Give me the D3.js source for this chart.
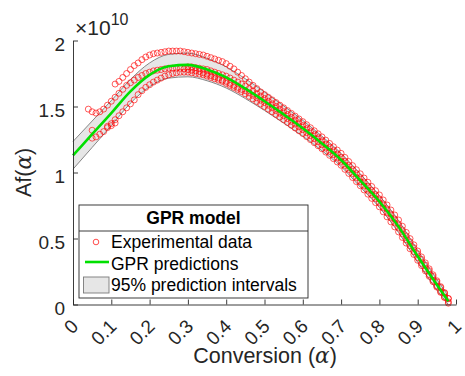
<!DOCTYPE html>
<html><head><meta charset="utf-8">
<script src="https://cdn.jsdelivr.net/npm/d3@7"></script>
<style>body{margin:0;background:#fff}svg{display:block}</style>
</head><body><svg id="c" width="465" height="376"></svg>
<script>
// ---- data (values in units of 1e10) ----
const alphaGrid = [0.04,0.05,0.06,0.07,0.08,0.09,0.10,0.11,0.12,0.13,0.14,0.15,0.16,0.17,0.18,0.19,0.20,0.21,0.22,0.23,0.24,0.25,0.26,0.27,0.28,0.29,0.30,0.31,0.32,0.33,0.34,0.35,0.36,0.37,0.38,0.39,0.40,0.41,0.42,0.43,0.44,0.45,0.46,0.47,0.48,0.49,0.50,0.51,0.52,0.53,0.54,0.55,0.56,0.57,0.58,0.59,0.60,0.61,0.62,0.63,0.64,0.65,0.66,0.67,0.68,0.69,0.70,0.71,0.72,0.73,0.74,0.75,0.76,0.77,0.78,0.79,0.80,0.81,0.82,0.83,0.84,0.85,0.86,0.87,0.88,0.89,0.90,0.91,0.92,0.93,0.94,0.95,0.96,0.97,0.98];
const expA = [1.48,1.46,1.45,1.46,1.48,1.51,1.54,1.57,1.60,1.63,1.66,1.68,1.70,1.72,1.735,1.75,1.76,1.77,1.775,1.78,1.785,1.79,1.79,1.79,1.79,1.785,1.78,1.775,1.77,1.765,1.755,1.745,1.735,1.725,1.715,1.70,1.69,1.675,1.66,1.645,1.63,1.62,1.603,1.585,1.566,1.548,1.53,1.51,1.49,1.47,1.45,1.43,1.409,1.388,1.367,1.346,1.325,1.302,1.279,1.256,1.233,1.21,1.185,1.16,1.135,1.11,1.085,1.054,1.023,0.992,0.961,0.93,0.898,0.866,0.834,0.802,0.77,0.732,0.694,0.656,0.618,0.58,0.535,0.49,0.445,0.40,0.355,0.312,0.269,0.226,0.183,0.14,0.098,0.057,0.02];
const expB = [null,null,null,null,null,null,null,1.67,1.69,1.72,1.75,1.78,1.81,1.83,1.855,1.875,1.89,1.90,1.905,1.91,1.915,1.92,1.92,1.92,1.92,1.915,1.91,1.905,1.90,1.895,1.89,1.88,1.87,1.86,1.85,1.84,1.825,1.805,1.785,1.76,1.735,1.71,1.685,1.66,1.635,1.61,1.59,1.57,1.55,1.53,1.51,1.49,1.469,1.448,1.427,1.406,1.385,1.362,1.339,1.316,1.293,1.27,1.245,1.22,1.195,1.17,1.145,1.114,1.083,1.052,1.021,0.99,0.958,0.926,0.894,0.862,0.83,0.792,0.754,0.716,0.678,0.64,0.593,0.546,0.499,0.452,0.405,0.36,0.315,0.27,0.225,0.18,0.135,0.09,0.045];
const expC = [null,1.26,1.27,1.29,1.31,1.34,1.37,1.40,1.43,1.46,1.49,1.52,1.55,1.59,1.62,1.645,1.665,1.685,1.70,1.715,1.73,1.74,1.75,1.755,1.76,1.76,1.76,1.755,1.75,1.745,1.74,1.73,1.72,1.71,1.70,1.69,1.675,1.66,1.645,1.63,1.613,1.595,1.576,1.557,1.538,1.519,1.50,1.48,1.46,1.44,1.42,1.40,1.379,1.358,1.337,1.316,1.295,1.272,1.249,1.226,1.203,1.18,1.155,1.13,1.105,1.08,1.055,1.024,0.993,0.962,0.931,0.90,0.868,0.836,0.804,0.772,0.74,0.702,0.664,0.626,0.588,0.55,0.508,0.465,0.422,0.379,0.335,0.295,0.255,0.214,0.173,0.132,0.092,0.053,0.01];
const expD = [null,1.32,null,null,null,1.35,1.355,1.375,null,null,null,null,null,null,null,null,null,null,null,null,null,null,null,null,null,null,1.80,1.80,1.795,1.79,1.785,1.78,1.77,1.76,1.75,1.74,1.73,1.716,1.70,1.685,1.67,1.655,1.636,1.617,1.598,1.579,1.56,1.54,1.52,1.50,1.48,1.46,1.439,1.418,1.397,1.376,1.355,1.332,1.309,1.286,1.263,1.24,1.215,1.19,1.165,1.14,1.115,1.084,1.053,1.022,0.991,0.96,0.928,0.896,0.864,0.832,0.80,0.762,0.724,0.686,0.648,0.61,0.565,0.52,0.475,0.43,0.385,0.342,0.299,0.256,0.213,0.17,0.128,0.086,0.045];

const alphaFit = [0,0.05,0.10,0.15,0.20,0.25,0.30,0.35,0.40,0.45,0.50,0.55,0.60,0.65,0.70,0.75,0.80,0.85,0.90,0.95,0.98];
const gprMean  = [1.13,1.29,1.45,1.615,1.74,1.805,1.815,1.78,1.72,1.635,1.54,1.44,1.335,1.22,1.095,0.94,0.78,0.59,0.365,0.15,0.025];
const gprUpper = [1.235,1.39,1.545,1.705,1.83,1.895,1.905,1.865,1.80,1.71,1.61,1.505,1.395,1.275,1.145,0.99,0.825,0.635,0.41,0.19,0.065];
const gprLower = [1.025,1.19,1.355,1.525,1.65,1.715,1.725,1.695,1.64,1.56,1.47,1.375,1.275,1.165,1.045,0.89,0.735,0.545,0.32,0.11,0.0];

const xTicks = [0,0.1,0.2,0.3,0.4,0.5,0.6,0.7,0.8,0.9,1];
const xTickLabels = ['0','0.1','0.2','0.3','0.4','0.5','0.6','0.7','0.8','0.9','1'];
const yTicks = [0,0.5,1,1.5,2];
const yTickLabels = ['0','0.5','1','1.5','2'];
const legendLabels = ['Experimental data','GPR predictions','95% prediction intervals'];

// ---- drawing ----
const svg = d3.select('#c');
const FONT = "'Liberation Sans', Arial, Helvetica, sans-serif";
const AX = '#262626';
const x = d3.scaleLinear().domain([0,1]).range([73,456]);
const y = d3.scaleLinear().domain([0,2]).range([304.5,40.5]);

const fitData = alphaFit.map((a,i)=>({a, m:gprMean[i], u:gprUpper[i], l:gprLower[i]}));

// band
svg.append('path').datum(fitData)
  .attr('d', d3.area().x(d=>x(d.a)).y0(d=>y(d.l)).y1(d=>y(d.u)).curve(d3.curveMonotoneX))
  .attr('fill','#e6e6e6').attr('stroke','none');
svg.append('path').datum(fitData)
  .attr('d', d3.line().x(d=>x(d.a)).y(d=>y(d.u)).curve(d3.curveMonotoneX))
  .attr('fill','none').attr('stroke','#7a7a7a').attr('stroke-width',0.9);
svg.append('path').datum(fitData)
  .attr('d', d3.line().x(d=>x(d.a)).y(d=>y(d.l)).curve(d3.curveMonotoneX))
  .attr('fill','none').attr('stroke','#7a7a7a').attr('stroke-width',0.9);

// scatter
const series = [expA, expB, expC, expD];
const pts = [];
series.forEach(s => s.forEach((v,i)=>{ if (v!==null) pts.push({a:alphaGrid[i], v}); }));
svg.append('g').selectAll('circle').data(pts).join('circle')
  .attr('cx', d=>x(d.a)).attr('cy', d=>y(d.v)).attr('r', 3)
  .attr('fill','none').attr('stroke','#ff0000').attr('stroke-width',0.75).attr('stroke-opacity',0.85);

// GPR line
svg.append('path').datum(fitData)
  .attr('d', d3.line().x(d=>x(d.a)).y(d=>y(d.m)).curve(d3.curveMonotoneX))
  .attr('fill','none').attr('stroke','#00e000').attr('stroke-width',2.6);

// axes
const gx = svg.append('g').attr('transform','translate(0,304.5)')
  .call(d3.axisBottom(x).tickValues(xTicks).tickSizeInner(-5).tickSizeOuter(0).tickFormat((d,i)=>xTickLabels[i]));
const gy = svg.append('g').attr('transform','translate(73,0)')
  .call(d3.axisLeft(y).tickValues(yTicks).tickSizeInner(-5).tickSizeOuter(0).tickFormat((d,i)=>yTickLabels[i]));
[gx,gy].forEach(g=>{
  g.select('.domain').attr('stroke',AX).attr('stroke-width',0.9);
  g.selectAll('.tick line').attr('stroke',AX).attr('stroke-width',0.9);
  g.selectAll('.tick text').attr('fill',AX).style('font-family',FONT).style('font-size','19px');
});
gx.selectAll('.tick text')
  .attr('y',null).attr('dy',null)
  .attr('text-anchor','end')
  .attr('transform','translate(6,23) rotate(-45)');
gy.selectAll('.tick text').attr('x',-8).attr('dy','0.5em');

// exponent
const ex = svg.append('text').attr('x',75).attr('y',35).attr('fill',AX).style('font-family',FONT).style('font-size','21px');
ex.append('tspan').text('\u00d710');
ex.append('tspan').attr('dy',-10).style('font-size','16px').text('10');

// axis labels
const yl = svg.append('text').attr('transform','translate(31,172.5) rotate(-90)').attr('text-anchor','middle')
  .attr('fill',AX).style('font-family',FONT).style('font-size','21.5px');
yl.append('tspan').text('Af(');
yl.append('tspan').style('font-family',"'DejaVu Serif','Liberation Serif',serif").style('font-style','italic').text('\u03b1');
yl.append('tspan').text(')');
const xl = svg.append('text').attr('x',265).attr('y',363).attr('text-anchor','middle')
  .attr('fill',AX).style('font-family',FONT).style('font-size','21.5px');
xl.append('tspan').text('Conversion (');
xl.append('tspan').style('font-family',"'DejaVu Serif','Liberation Serif',serif").style('font-style','italic').text('\u03b1');
xl.append('tspan').text(')');

// legend
const lg = svg.append('g');
lg.append('rect').attr('x',79).attr('y',205).attr('width',229).attr('height',93)
  .attr('fill','#fff').attr('stroke',AX).attr('stroke-width',0.9);
lg.append('line').attr('x1',79).attr('x2',308).attr('y1',231).attr('y2',231).attr('stroke',AX).attr('stroke-width',0.9);
lg.append('text').attr('x',193.5).attr('y',224).attr('text-anchor','middle').attr('fill','#000')
  .style('font-family',FONT).style('font-size','17.5px').style('font-weight','bold').text('GPR model');
lg.append('circle').attr('cx',96).attr('cy',242).attr('r',2.8).attr('fill','none').attr('stroke','#ff0000').attr('stroke-width',0.7);
lg.append('line').attr('x1',85).attr('x2',109).attr('y1',262).attr('y2',262).attr('stroke','#00e000').attr('stroke-width',2.6);
lg.append('rect').attr('x',83.5).attr('y',277).attr('width',25.5).attr('height',16).attr('fill','#e6e6e6').attr('stroke','#7a7a7a').attr('stroke-width',0.9);
const ly = [248,269.5,291];
legendLabels.forEach((t,i)=>{
  lg.append('text').attr('x',111).attr('y',ly[i]).attr('fill','#000')
    .style('font-family',FONT).style('font-size','17.5px').text(t);
});
</script>
</body></html>
